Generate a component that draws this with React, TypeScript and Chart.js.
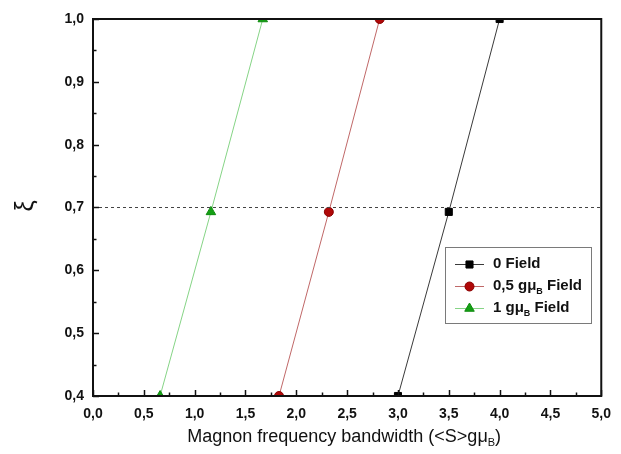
import React, { useEffect, useRef } from 'react';
import { Chart, registerables } from 'chart.js';
Chart.register(...registerables);

// ---- data ----
const xiValues = [0.4, 0.693, 1.0];
const bandwidth0Field = [3.0, 3.5, 4.0];
const bandwidth05Field = [1.83, 2.32, 2.82];
const bandwidth1Field = [0.66, 1.16, 1.67];
const referenceXi = 0.7;
const xRange = [0, 5];
const yRange = [0.4, 1.0];
const seriesNames = ['0 Field', '0,5 gμB Field', '1 gμB Field'];
const xTitle = ['Magnon frequency bandwidth (<S>gμ', 'B', ')'];
const yTitle = 'ξ';

const FONT = '"Liberation Sans", Arial, sans-serif';

const fmt = (v: number) => v.toFixed(1).replace('.', ',');

const series = [
  { name: seriesNames[0], xs: bandwidth0Field, line: '#3a3a3a', fill: '#000000', border: '#000000', style: 'rect', radius: 5 },
  { name: seriesNames[1], xs: bandwidth05Field, line: '#c06868', fill: '#b00808', border: '#8a0000', style: 'circle', radius: 4.5 },
  { name: seriesNames[2], xs: bandwidth1Field, line: '#86d486', fill: '#14a014', border: '#0f8a0f', style: 'triangle', radius: 5.5 },
];

function drawSubText(ctx: CanvasRenderingContext2D, x: number, y: number, parts: string[], size: number, weight: string) {
  ctx.textBaseline = 'middle';
  ctx.textAlign = 'left';
  ctx.font = `${weight} ${size}px ${FONT}`;
  ctx.fillText(parts[0], x, y);
  let cx = x + ctx.measureText(parts[0]).width;
  const subSize = Math.round(size * 0.62);
  ctx.font = `${weight} ${subSize}px ${FONT}`;
  ctx.fillText(parts[1], cx, y + size * 0.35);
  cx += ctx.measureText(parts[1]).width;
  ctx.font = `${weight} ${size}px ${FONT}`;
  ctx.fillText(parts[2], cx, y);
  return cx + ctx.measureText(parts[2]).width - x;
}

function measureSubText(ctx: CanvasRenderingContext2D, parts: string[], size: number, weight: string) {
  ctx.font = `${weight} ${size}px ${FONT}`;
  let w = ctx.measureText(parts[0]).width + ctx.measureText(parts[2]).width;
  ctx.font = `${weight} ${Math.round(size * 0.62)}px ${FONT}`;
  w += ctx.measureText(parts[1]).width;
  return w;
}

function drawMarker(ctx: CanvasRenderingContext2D, style: string, x: number, y: number, r: number, fill: string, border: string) {
  ctx.beginPath();
  if (style === 'rect') {
    const s = Math.SQRT1_2 * r;
    ctx.rect(x - s, y - s, 2 * s, 2 * s);
  } else if (style === 'circle') {
    ctx.arc(x, y, r, 0, Math.PI * 2);
  } else {
    const w = r * Math.sqrt(3) / 2;
    ctx.moveTo(x, y - r);
    ctx.lineTo(x + w, y + r / 2);
    ctx.lineTo(x - w, y + r / 2);
    ctx.closePath();
  }
  ctx.fillStyle = fill;
  ctx.strokeStyle = border;
  ctx.lineWidth = 1;
  ctx.fill();
  ctx.stroke();
}

const decorPlugin = {
  id: 'decor',
  afterDatasetsDraw(chart: any) {
    const ctx: CanvasRenderingContext2D = chart.ctx;
    const { left, right, top, bottom } = chart.chartArea;
    const xs = chart.scales.x;
    const ys = chart.scales.y;
    ctx.save();
    // inward ticks
    ctx.strokeStyle = '#111';
    ctx.lineWidth = 1.5;
    for (let v = xRange[0]; v <= xRange[1] + 1e-9; v += 0.25) {
      const major = Math.abs(v * 2 - Math.round(v * 2)) < 1e-6;
      const px = Math.round(xs.getPixelForValue(v)) + 0.5;
      ctx.beginPath();
      ctx.moveTo(px, bottom);
      ctx.lineTo(px, bottom - (major ? 6 : 3.5));
      ctx.stroke();
    }
    for (let v = yRange[0]; v <= yRange[1] + 1e-9; v += 0.05) {
      const major = Math.abs(v * 10 - Math.round(v * 10)) < 1e-6;
      const py = Math.round(ys.getPixelForValue(v)) + 0.5;
      ctx.beginPath();
      ctx.moveTo(left, py);
      ctx.lineTo(left + (major ? 6 : 3.5), py);
      ctx.stroke();
    }
    // frame
    ctx.strokeStyle = '#111';
    ctx.lineWidth = 2;
    ctx.strokeRect(left, top, right - left, bottom - top);

    // x title with subscript
    ctx.fillStyle = '#111';
    const tSize = 18;
    const tw = measureSubText(ctx, xTitle, tSize, 'normal');
    drawSubText(ctx, (left + right) / 2 - tw / 2 - 3, 437, xTitle, tSize, 'normal');

    // y title rotated
    ctx.save();
    ctx.translate(26, 206);
    ctx.rotate(-Math.PI / 2);
    ctx.font = `normal 25px ${FONT}`;
    ctx.textAlign = 'center';
    ctx.textBaseline = 'middle';
    ctx.fillText(yTitle, 0, 0);
    ctx.restore();

    // legend
    const bx = 445, by = 247, bw = 146, bh = 76;
    ctx.fillStyle = '#ffffff';
    ctx.fillRect(bx, by, bw, bh);
    ctx.strokeStyle = '#7a7a7a';
    ctx.lineWidth = 1;
    ctx.strokeRect(bx + 0.5, by + 0.5, bw, bh);
    const rowsY = [264, 286, 308];
    series.forEach((s, i) => {
      const y = rowsY[i];
      ctx.strokeStyle = s.line;
      ctx.lineWidth = 1;
      ctx.beginPath();
      ctx.moveTo(455, y + 0.5);
      ctx.lineTo(484, y + 0.5);
      ctx.stroke();
      drawMarker(ctx, s.style, 469.5, y + 0.5, s.radius, s.fill, s.border);
      ctx.fillStyle = '#111';
      const name = s.name;
      const idx = name.indexOf('μB');
      if (idx >= 0) {
        drawSubText(ctx, 493, y, [name.slice(0, idx + 1), 'B', name.slice(idx + 2)], 15, 'bold');
      } else {
        ctx.font = `bold 15px ${FONT}`;
        ctx.textAlign = 'left';
        ctx.textBaseline = 'middle';
        ctx.fillText(name, 493, y);
      }
    });
    ctx.restore();
  },
};

export default function App() {
  const ref = useRef<HTMLCanvasElement | null>(null);
  useEffect(() => {
    if (!ref.current) return;
    const datasets: any[] = series.map((s) => ({
      label: s.name,
      data: s.xs.map((x, i) => ({ x, y: xiValues[i] })),
      borderColor: s.line,
      borderWidth: 1,
      backgroundColor: s.fill,
      pointBackgroundColor: s.fill,
      pointBorderColor: s.border,
      pointBorderWidth: 1,
      pointStyle: s.style,
      pointRadius: s.radius,
      showLine: true,
      tension: 0,
      clip: 0,
    }));
    datasets.unshift({
      label: 'ref',
      data: [
        { x: xRange[0], y: referenceXi },
        { x: xRange[1], y: referenceXi },
      ],
      borderColor: '#444',
      borderWidth: 1,
      borderDash: [3, 3],
      pointRadius: 0,
      showLine: true,
      clip: 0,
    });
    const chart = new Chart(ref.current, {
      type: 'scatter',
      data: { datasets },
      options: {
        animation: false,
        responsive: false,
        devicePixelRatio: 1,
        layout: { padding: { left: 0, top: 19, right: 18, bottom: 0 } },
        plugins: { legend: { display: false }, tooltip: { enabled: false } },
        scales: {
          x: {
            type: 'linear',
            min: xRange[0],
            max: xRange[1],
            afterFit: (s: any) => { s.height = 58; },
            grid: { display: false, drawTicks: false },
            border: { display: false },
            ticks: {
              stepSize: 0.5,
              padding: 10,
              color: '#111',
              font: { family: FONT, size: 14, weight: 'bold' },
              callback: (v: any) => fmt(Number(v)),
              maxRotation: 0,
              autoSkip: false,
            },
          },
          y: {
            type: 'linear',
            min: yRange[0],
            max: yRange[1],
            afterFit: (s: any) => { s.width = 93; },
            grid: { display: false, drawTicks: false },
            border: { display: false },
            ticks: {
              stepSize: 0.1,
              padding: 9,
              color: '#111',
              font: { family: FONT, size: 14, weight: 'bold' },
              callback: (v: any) => fmt(Number(v)),
              autoSkip: false,
            },
          },
        },
      } as any,
      plugins: [decorPlugin],
    });
    return () => chart.destroy();
  }, []);
  return (
    <div style={{ position: 'fixed', left: 0, top: 0, width: 621, height: 454, background: '#fff' }}>
      <canvas ref={ref} width={621} height={454} style={{ display: 'block', width: 621, height: 454 }} />
    </div>
  );
}
